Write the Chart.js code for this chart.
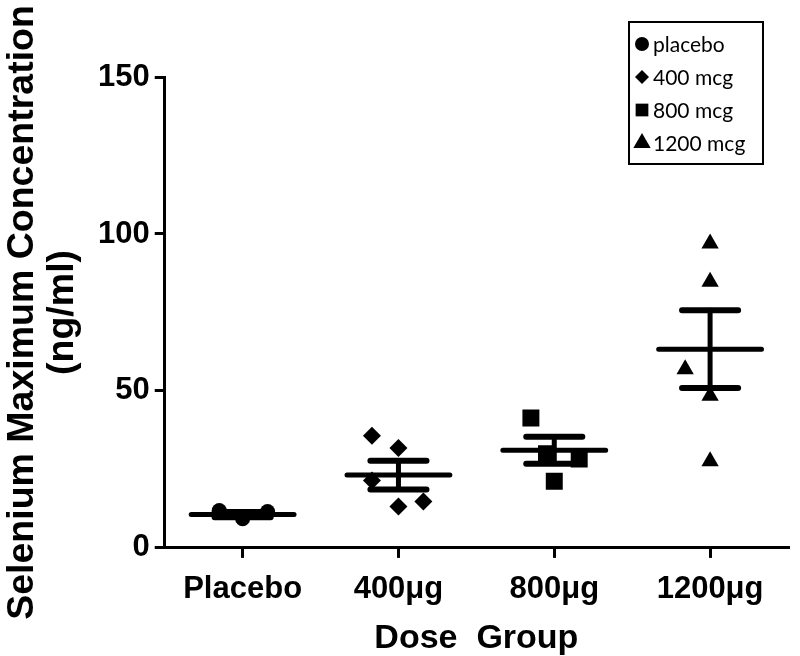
<!DOCTYPE html>
<html>
<head>
<meta charset="utf-8">
<script src="https://cdn.jsdelivr.net/npm/chart.js@4"></script>
<style>
html, body { margin: 0; padding: 0; background: #fff; }
#wrap { position: relative; width: 800px; height: 656px; }
#legend {
  position: absolute; left: 628px; top: 21px; width: 132px; height: 136px;
  border: 2px solid #000; background: #fff; padding-top: 4px;
  font-family: Lato, "Open Sans", sans-serif; font-size: 21px; color: #000;
}
.item { display: flex; align-items: center; height: 33px; }
.item canvas { width: 22px; height: 22px; margin-left: 1px; }
</style>
</head>
<body>
<div id="wrap">
  <canvas id="chart" width="800" height="656"></canvas>
  <div id="legend"></div>
</div>
<script>
// группы и подписи
const groups = ['Placebo', '400μg', '800μg', '1200μg'];
const seriesNames = ['placebo', '400 mcg', '800 mcg', '1200 mcg'];
const pointStyles = ['circle', 'rectRot', 'rect', 'triangle'];
const pointSizes = [7.5, 9, 12, 10];

// отдельные значения (ng/ml) и их горизонтальный разброс внутри группы
const placebo = [11.9, 9.3, 11.6];
const placeboSpread = [-0.15, 0, 0.16];
const dose400 = [35.7, 31.8, 21.5, 13.2, 14.8];
const dose400Spread = [-0.17, 0, -0.17, 0, 0.16];
const dose800 = [41.4, 30.0, 28.3, 21.2];
const dose800Spread = [-0.15, -0.05, 0.16, 0];
const dose1200 = [97.0, 84.8, 56.9, 48.5, 27.6];
const dose1200Spread = [0, 0, -0.16, 0, 0];

// среднее и SEM
const means = [10.6, 23.2, 31.1, 63.3];
const sems = [0.8, 4.6, 4.3, 12.4];

const yTicks = [0, 50, 100, 150];

const values = [placebo, dose400, dose800, dose1200];
const spreads = [placeboSpread, dose400Spread, dose800Spread, dose1200Spread];

const MEAN_HALF = 0.33;
const CAP_HALF = 0.18;

// 1. точки
const pointSets = values.map((vals, g) => ({
  label: seriesNames[g],
  data: vals.map((v, i) => ({ x: g + 1 + spreads[g][i], y: v })),
  pointStyle: pointStyles[g],
  pointRadius: pointSizes[g],
  backgroundColor: '#000',
  borderColor: '#000',
  borderWidth: 0,
  order: 0
}));

// 2. линии среднего и планки ошибок
const meanLine = [];
const capLines = [];
const stemLines = [];
means.forEach((m, g) => {
  const c = g + 1;
  meanLine.push({ x: c - MEAN_HALF, y: m }, { x: c + MEAN_HALF, y: m }, { x: c, y: null });
  const hi = m + sems[g], lo = m - sems[g];
  capLines.push({ x: c - CAP_HALF, y: hi }, { x: c + CAP_HALF, y: hi }, { x: c, y: null });
  capLines.push({ x: c - CAP_HALF, y: lo }, { x: c + CAP_HALF, y: lo }, { x: c, y: null });
  stemLines.push({ x: c, y: lo }, { x: c, y: hi }, { x: c, y: null });
});

function lineSet(data, width) {
  return {
    label: '',
    data: data,
    showLine: true,
    spanGaps: false,
    pointRadius: 0,
    borderColor: '#000',
    borderWidth: width,
    borderCapStyle: 'round',
    order: 1
  };
}

const boldFont = (size, lh) => ({ family: '"Liberation Sans", Arial, sans-serif', weight: 'bold', size: size, lineHeight: lh || 1.2 });

const ctx = document.getElementById('chart').getContext('2d');
new Chart(ctx, {
  type: 'scatter',
  data: {
    datasets: [...pointSets, lineSet(meanLine, 5), lineSet(capLines, 6), lineSet(stemLines, 5)]
  },
  options: {
    responsive: false,
    animation: false,
    layout: { padding: { left: 0, top: 77, right: 3, bottom: 0 } },
    plugins: {
      legend: { display: false },
      tooltip: { enabled: false }
    },
    scales: {
      x: {
        type: 'linear',
        min: 0.5,
        max: 4.5,
        afterBuildTicks: axis => { axis.ticks = groups.map((g, i) => ({ value: i + 1 })); },
        ticks: {
          callback: v => groups[v - 1],
          font: boldFont(31, 1.1),
          color: '#000',
          padding: 15,
          maxRotation: 0,
          autoSkip: false
        },
        grid: { drawOnChartArea: false, drawTicks: true, tickLength: 10, color: '#000', lineWidth: 3 },
        border: { color: '#000', width: 3 },
        title: { display: true, text: 'Dose  Group', font: boldFont(34, 1.0), color: '#000', padding: { top: 0, bottom: 0 } }
      },
      y: {
        min: 0,
        max: 150,
        afterBuildTicks: axis => { axis.ticks = yTicks.map(v => ({ value: v })); },
        ticks: { font: boldFont(31), color: '#000', padding: 5 },
        grid: { drawOnChartArea: false, drawTicks: true, tickLength: 10, color: '#000', lineWidth: 3 },
        border: { color: '#000', width: 3 },
        title: {
          display: true,
          text: ['Selenium Maximum Concentration', '(ng/ml)'],
          font: boldFont(37.5, 1.08),
          color: '#000',
          padding: { top: 2, bottom: 10 }
        }
      }
    }
  }
});

// 3. легенда в рамке
const legend = document.getElementById('legend');
seriesNames.forEach((name, g) => {
  const row = document.createElement('div');
  row.className = 'item';
  const c = document.createElement('canvas');
  c.width = 22; c.height = 22;
  const lctx = c.getContext('2d');
  lctx.fillStyle = '#000';
  lctx.strokeStyle = '#000';
  Chart.helpers.drawPoint(lctx, { pointStyle: pointStyles[g], radius: [7, 7, 9, 10][g], borderWidth: 0 }, 11, 11);
  const span = document.createElement('span');
  span.textContent = name;
  row.appendChild(c);
  row.appendChild(span);
  legend.appendChild(row);
});
</script>
</body>
</html>
